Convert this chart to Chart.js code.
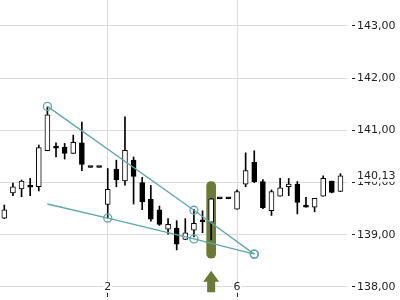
<!DOCTYPE html>
<html><head><meta charset="utf-8">
<script src="https://cdn.jsdelivr.net/npm/chart.js@4.4.1/dist/chart.umd.min.js"></script>
<style>html,body{margin:0;padding:0;background:#fff;overflow:hidden}#wrap{width:400px;height:300px;position:relative}</style>
</head><body><div id="wrap"><canvas id="c"></canvas></div>
<script>
// ---- data ----
const candleIdx = [0,1,2,3,4,5,6,7,8,9,10,11,12,13,14,15,16,17,18,19,20,21,22,23,24,25,26,27,28,29,30,31,32,33,34,35,36,37,38,39];
const openV  = [139.32,139.80,139.88,139.93,139.92,140.61,140.67,140.68,140.56,140.76,140.29,140.29,139.58,140.26,140.03,140.43,140.00,139.68,139.48,139.11,139.13,138.91,139.09,139.27,139.24,139.69,139.69,139.49,139.97,140.39,140.02,139.46,139.74,139.92,139.97,139.53,139.53,139.74,140.03,139.83];
const highV  = [139.57,139.99,140.05,140.08,140.72,141.45,140.76,140.75,140.91,141.16,140.29,140.29,140.27,140.43,141.26,140.49,140.10,139.95,139.55,139.31,139.27,139.31,139.49,139.46,139.70,139.69,139.69,139.86,140.57,140.61,140.06,139.86,140.08,140.08,140.02,139.72,139.70,140.13,140.03,140.17];
const lowV   = [139.31,139.75,139.73,139.75,139.84,140.61,140.49,140.45,140.56,140.23,140.29,140.29,139.32,139.92,139.95,139.59,139.48,139.26,139.18,139.01,138.71,138.91,138.96,139.04,138.90,139.69,139.69,139.49,139.92,140.00,139.50,139.37,139.74,139.75,139.40,139.53,139.44,139.74,139.80,139.83];
const closeV = [139.48,139.92,140.03,139.91,140.67,141.30,140.66,140.56,140.77,140.35,140.29,140.29,139.87,140.05,140.62,140.12,139.63,139.30,139.20,139.20,138.82,139.04,139.22,139.25,139.69,139.69,139.69,139.83,140.23,140.02,139.52,139.83,139.90,139.97,139.62,139.53,139.70,140.08,139.81,140.13];

const yTicks = [138,139,140,141,142,143];
const xTickIdx = [12,27];
const xTickLabels = ['2','6'];
const lastPrice = 140.13;

const upperTrendX = [5,22,29];
const upperTrendY = [141.46,139.47,138.63];
const lowerTrendX = [5,12,22,29];
const lowerTrendY = [139.59,139.32,138.92,138.63];

const signalIdx = 24;
const signalRange = [138.55,140.02];
const arrowLevels = [137.90,138.10,138.31]; // shaft bottom, head base, apex

// ---- styles ----
const TEAL = '#5fa6a8';
const OLIVE = '#6b7b36';
const TXT = '#222';
Chart.defaults.font.family = 'DejaVu Sans';
Chart.defaults.font.size = 11;

const fmt = v => v.toFixed(2).replace('.', ',');

const overlay = {
  id: 'overlay',
  afterDatasetsDraw(chart) {
    const ctx = chart.ctx, xs = chart.scales.x, ys = chart.scales.y;
    const cx = xs.getPixelForValue(signalIdx);
    const yb = ys.getPixelForValue(arrowLevels[0]);
    const yh = ys.getPixelForValue(arrowLevels[1]);
    const ya = ys.getPixelForValue(arrowLevels[2]);
    ctx.save();
    ctx.fillStyle = OLIVE;
    ctx.beginPath();
    ctx.moveTo(cx, ya);
    ctx.lineTo(cx + 8, yh);
    ctx.lineTo(cx + 4, yh);
    ctx.lineTo(cx + 4, yb);
    ctx.lineTo(cx - 4, yb);
    ctx.lineTo(cx - 4, yh);
    ctx.lineTo(cx - 8, yh);
    ctx.closePath();
    ctx.fill();
    ctx.restore();
  },
  afterDraw(chart) {
    const ctx = chart.ctx, xs = chart.scales.x, ys = chart.scales.y, ca = chart.chartArea;
    ctx.save();
    ctx.font = '11px "DejaVu Sans"';
    ctx.textBaseline = 'middle';
    // x labels
    ctx.textAlign = 'center';
    const ly = ys.getPixelForValue(yTicks[0]);
    xTickIdx.forEach((v, i) => {
      const px = xs.getPixelForValue(v);
      const w = ctx.measureText(xTickLabels[i]).width;
      ctx.fillStyle = '#fff';
      ctx.fillRect(px - w / 2 - 1, ly - 5, w + 2, 10);
      ctx.fillStyle = TXT;
      ctx.fillText(xTickLabels[i], px, ly);
    });
    // last price label
    const py = ys.getPixelForValue(lastPrice);
    const t = fmt(lastPrice);
    const lx = ca.right + 10;
    const tw = ctx.measureText(t).width;
    ctx.fillStyle = '#fff';
    ctx.fillRect(lx - 1, py - 6, tw + 3, 12);
    ctx.textAlign = 'left';
    ctx.fillStyle = TXT;
    ctx.fillText(t, lx, py);
    ctx.restore();
  }
};

const wickData = candleIdx.map(i => ({x: i, y: [lowV[i], highV[i]]}));
const bodyData = candleIdx.map(i => ({x: i, y: [openV[i], closeV[i]]}));
const bodyFill = candleIdx.map(i => closeV[i] > openV[i] ? '#ffffff' : '#000000');

new Chart(document.getElementById('c'), {
  type: 'bar',
  data: {
    datasets: [
      { type: 'line', data: upperTrendX.map((x, i) => ({x, y: upperTrendY[i]})), borderColor: TEAL, borderWidth: 1.3,
        pointRadius: 4, pointBorderColor: TEAL, pointBackgroundColor: 'rgba(0,0,0,0)', pointBorderWidth: 1.3, fill: false, tension: 0, order: 1 },
      { type: 'line', data: lowerTrendX.map((x, i) => ({x, y: lowerTrendY[i]})), borderColor: TEAL, borderWidth: 1.3,
        pointRadius: [0,4,4,4], pointBorderColor: TEAL, pointBackgroundColor: 'rgba(0,0,0,0)', pointBorderWidth: 1.3, fill: false, tension: 0, order: 1 },
      { data: bodyData, barThickness: 5, minBarLength: 2, backgroundColor: bodyFill, borderColor: '#000', borderWidth: 1, borderSkipped: false, grouped: false, order: 2 },
      { data: wickData, barThickness: 1, backgroundColor: '#000', borderWidth: 0, grouped: false, order: 3 },
      { data: [{x: signalIdx, y: signalRange}], barThickness: 9, backgroundColor: OLIVE, borderRadius: 5, borderSkipped: false, grouped: false, order: 4 }
    ]
  },
  options: {
    responsive: true, maintainAspectRatio: false, animation: false,
    layout: { autoPadding: false, padding: { top: 0, left: 0, right: 0, bottom: 3 } },
    plugins: { legend: { display: false }, tooltip: { enabled: false } },
    scales: {
      x: {
        type: 'linear', min: -0.5, max: 39.76, offset: false,
        afterBuildTicks: s => { s.ticks = xTickIdx.map(v => ({value: v})); },
        ticks: { display: false },
        grid: { offset: false, color: '#dcdcdc', lineWidth: 1, drawTicks: true, tickLength: 4, tickColor: TXT },
        border: { display: false }
      },
      y: {
        position: 'right', min: 137.885, max: 143.498,
        afterBuildTicks: s => { s.ticks = yTicks.map(v => ({value: v})); },
        afterFit: s => { s.paddingTop = 0; s.paddingBottom = 0; s.width = 53; },
        ticks: { color: TXT, padding: 2, callback: v => fmt(v) },
        grid: { color: '#dcdcdc', lineWidth: 1, tickLength: 8, tickColor: TXT, tickBorderDash: [0, 5, 3, 20] },
        border: { display: false }
      }
    }
  },
  plugins: [overlay]
});
</script>
</body></html>
